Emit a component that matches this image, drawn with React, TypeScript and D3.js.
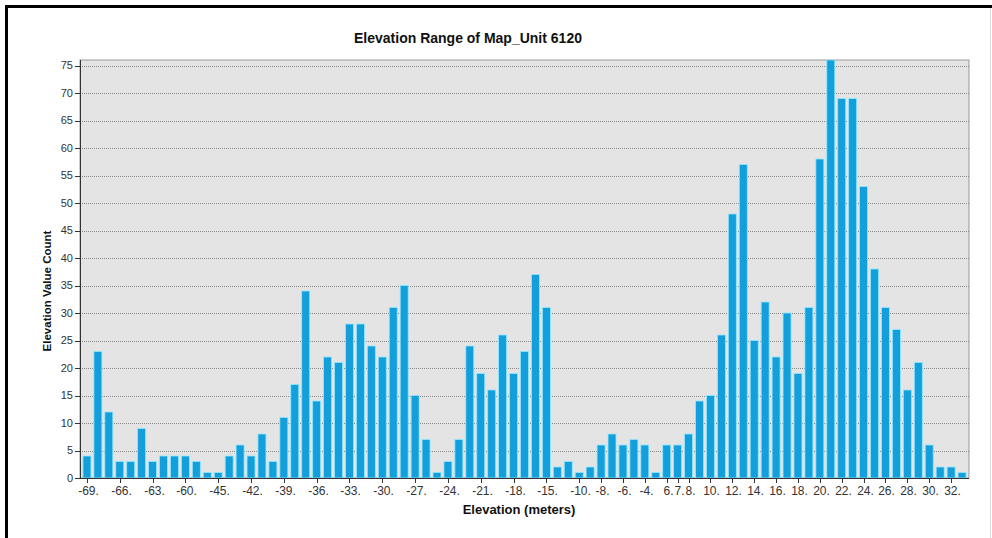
import React from 'react';
import * as d3 from 'd3';

// bar heights, left to right
const counts = [
  4, 23, 12, 3, 3, 9, 3, 4, 4, 4, 3, 1, 1, 4, 6, 4, 8, 3, 11, 17,
  34, 14, 22, 21, 28, 28, 24, 22, 31, 35, 15, 7, 1, 3, 7, 24, 19, 16, 26, 19,
  23, 37, 31, 2, 3, 1, 2, 6, 8, 6, 7, 6, 1, 6, 6, 8, 14, 15, 26, 48,
  57, 25, 32, 22, 30, 19, 31, 58, 76, 69, 69, 53, 38, 31, 27, 16, 21, 6, 2, 2, 1,
];

// which bars carry an axis label, and the label text
const tickIndex = [0, 3, 6, 9, 12, 15, 18, 21, 24, 27, 30, 33, 36, 39, 42, 45, 47, 49, 51, 53, 54, 55, 57, 59, 61, 63, 65, 67, 69, 71, 73, 75, 77, 79];
const tickLabels = ['-69.', '-66.', '-63.', '-60.', '-45.', '-42.', '-39.', '-36.', '-33.', '-30.', '-27.', '-24.', '-21.', '-18.', '-15.', '-10.', '-8.', '-6.', '-4.', '6.', '7.', '8.', '10.', '12.', '14.', '16.', '18.', '20.', '22.', '24.', '26.', '28.', '30.', '32.'];

const yTicks = d3.range(0, 80, 5);

const W = 992;
const H = 538;
const plot = { left: 80, right: 969, top: 60, bottom: 478 };
const font = 'Arial, "Liberation Sans", sans-serif';

export default function App() {
  const x = d3
    .scaleBand<number>()
    .domain(counts.map((_, i) => i))
    .range([plot.left, plot.right])
    .paddingInner(0.27)
    .paddingOuter(0.27);

  const y = d3.scaleLinear().domain([0, 76]).range([plot.bottom, plot.top]);

  const bw = x.bandwidth();

  return (
    <svg width={W} height={H} style={{ position: 'absolute', left: 0, top: 0 }} fontFamily={font}>
      <rect x={0} y={0} width={W} height={H} fill="#fff" />
      {/* outer frame */}
      <line x1={6.5} y1={5} x2={6.5} y2={H} stroke="#000" strokeWidth={3} />
      <line x1={5} y1={6.5} x2={W} y2={6.5} stroke="#000" strokeWidth={3} />
      <line x1={990.5} y1={8} x2={990.5} y2={H} stroke="#ddd" strokeWidth={1} />

      <text x={468} y={43} textAnchor="middle" fontSize={14} fontWeight="bold" fill="#111">
        Elevation Range of Map_Unit 6120
      </text>

      {/* plot background */}
      <rect
        x={plot.left}
        y={plot.top}
        width={plot.right - plot.left}
        height={plot.bottom - plot.top}
        fill="#e4e4e4"
        stroke="#999"
      />

      {yTicks.map((t) => (
        <g key={t}>
          {t > 0 && (
            <line
              x1={plot.left}
              x2={plot.right}
              y1={Math.round(y(t)) + 0.5}
              y2={Math.round(y(t)) + 0.5}
              stroke="#8a8a8a"
              strokeDasharray="1,1"
            />
          )}
          <line x1={plot.left - 5} x2={plot.left} y1={Math.round(y(t)) + 0.5} y2={Math.round(y(t)) + 0.5} stroke="#333" />
          <text x={plot.left - 7} y={y(t)} dy="0.35em" textAnchor="end" fontSize={11} fill="#333">
            {t}
          </text>
        </g>
      ))}

      {counts.map((c, i) => (
        <rect
          key={i}
          x={x(i)}
          y={y(c)}
          width={bw}
          height={plot.bottom - y(c)}
          fill="#139fdc"
          stroke="#8fe8ff"
          strokeWidth={0.8}
        />
      ))}

      {/* axes lines */}
      <line x1={plot.left + 0.5} x2={plot.left + 0.5} y1={plot.top} y2={plot.bottom} stroke="#333" />
      <line x1={plot.left} x2={plot.right} y1={plot.bottom + 0.5} y2={plot.bottom + 0.5} stroke="#333" />

      {tickIndex.map((ti, k) => {
        const cx = Math.round((x(ti) as number) + bw / 2) + 0.5;
        return (
          <g key={ti}>
            <line x1={cx} x2={cx} y1={plot.bottom} y2={plot.bottom + 5} stroke="#333" />
            <text x={cx + 1} y={plot.bottom + 17} textAnchor="middle" fontSize={12} fill="#333">
              {tickLabels[k]}
            </text>
          </g>
        );
      })}

      <text x={519} y={514} textAnchor="middle" fontSize={13} fontWeight="bold" fill="#111">
        Elevation (meters)
      </text>
      <text
        transform={`translate(51, 291) rotate(-90)`}
        textAnchor="middle"
        fontSize={11.5}
        fontWeight="bold"
        fill="#111"
      >
        Elevation Value Count
      </text>
    </svg>
  );
}
